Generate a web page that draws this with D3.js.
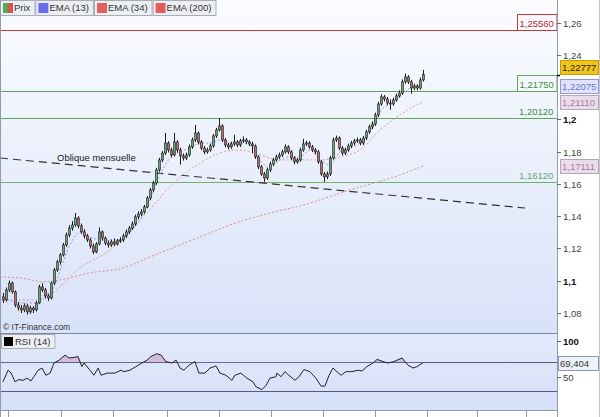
<!DOCTYPE html>
<html><head><meta charset="utf-8">
<script src="https://cdn.jsdelivr.net/npm/d3@7"></script>
<style>body{margin:0;background:#fff}svg{display:block;font-family:'Liberation Sans',Arial,sans-serif}</style>
</head><body><svg id="c" width="600" height="417"></svg>
<script>
// ---------- DATA ----------
const opens = [1.0900,1.0881,1.0943,1.0986,1.0931,1.0850,1.0831,1.0819,1.0844,1.0807,1.0831,1.0819,1.0862,1.0962,1.0943,1.0906,1.0893,1.0986,1.1067,1.1117,
1.1160,1.1222,1.1284,1.1327,1.1346,1.1389,1.1340,1.1303,1.1278,1.1253,1.1216,1.1179,1.1228,1.1303,1.1265,1.1234,1.1222,1.1241,1.1228,1.1247,
1.1253,1.1278,1.1303,1.1327,1.1352,1.1396,1.1414,1.1427,1.1458,1.1513,1.1563,1.1606,1.1687,1.1749,1.1792,1.1854,1.1811,1.1780,1.1861,1.1811,
1.1774,1.1761,1.1780,1.1830,1.1873,1.1916,1.1861,1.1823,1.1799,1.1811,1.1836,1.1898,1.1935,1.1960,1.1873,1.1842,1.1830,1.1848,1.1861,1.1842,
1.1867,1.1873,1.1861,1.1848,1.1836,1.1768,1.1706,1.1662,1.1637,1.1687,1.1724,1.1749,1.1768,1.1780,1.1799,1.1830,1.1799,1.1761,1.1737,1.1749,
1.1811,1.1848,1.1854,1.1830,1.1811,1.1799,1.1737,1.1662,1.1644,1.1662,1.1761,1.1873,1.1885,1.1823,1.1792,1.1811,1.1836,1.1854,1.1867,1.1873,
1.1854,1.1885,1.1923,1.1954,1.1972,1.2028,1.2096,1.2140,1.2127,1.2102,1.2096,1.2121,1.2146,1.2164,1.2233,1.2264,1.2233,1.2195,1.2208,1.2195,1.2245];
const closes = [1.0881,1.0943,1.0986,1.0931,1.0850,1.0831,1.0819,1.0844,1.0807,1.0831,1.0819,1.0862,1.0962,1.0943,1.0906,1.0893,1.0986,1.1067,1.1117,1.1160,
1.1222,1.1284,1.1327,1.1346,1.1389,1.1340,1.1303,1.1278,1.1253,1.1216,1.1179,1.1228,1.1303,1.1265,1.1234,1.1222,1.1241,1.1228,1.1247,1.1253,
1.1278,1.1303,1.1327,1.1352,1.1396,1.1414,1.1427,1.1458,1.1513,1.1563,1.1606,1.1687,1.1749,1.1792,1.1854,1.1811,1.1780,1.1861,1.1811,1.1774,
1.1761,1.1780,1.1830,1.1873,1.1916,1.1861,1.1823,1.1799,1.1811,1.1836,1.1898,1.1935,1.1960,1.1873,1.1842,1.1830,1.1848,1.1861,1.1842,1.1867,
1.1873,1.1861,1.1848,1.1836,1.1768,1.1706,1.1662,1.1637,1.1687,1.1724,1.1749,1.1768,1.1780,1.1799,1.1830,1.1799,1.1761,1.1737,1.1749,1.1811,
1.1848,1.1854,1.1830,1.1811,1.1799,1.1737,1.1662,1.1644,1.1662,1.1761,1.1873,1.1885,1.1823,1.1792,1.1811,1.1836,1.1854,1.1867,1.1873,1.1854,
1.1885,1.1923,1.1954,1.1972,1.2028,1.2096,1.2140,1.2127,1.2102,1.2096,1.2121,1.2146,1.2164,1.2233,1.2264,1.2233,1.2195,1.2208,1.2195,1.2245,1.22777];
const highs = [1.0925,1.0958,1.1002,1.0995,1.0940,1.0868,1.0850,1.0860,1.0855,1.0845,1.0842,1.0875,1.0975,1.0985,1.0955,1.0920,1.0995,1.1080,1.1130,1.1172,
1.1235,1.1300,1.1345,1.1370,1.1420,1.1400,1.1355,1.1320,1.1290,1.1265,1.1230,1.1240,1.1330,1.1312,1.1275,1.1250,1.1255,1.1262,1.1260,1.1270,
1.1292,1.1318,1.1340,1.1368,1.1410,1.1430,1.1445,1.1470,1.1525,1.1575,1.1620,1.1700,1.1762,1.1805,1.1916,1.1865,1.1825,1.1916,1.1872,1.1825,
1.1790,1.1795,1.1845,1.1888,1.1966,1.1925,1.1872,1.1835,1.1825,1.1850,1.1910,1.1948,1.2009,1.1970,1.1885,1.1855,1.1862,1.1905,1.1872,1.1880,
1.1895,1.1885,1.1872,1.1862,1.1845,1.1778,1.1718,1.1675,1.1700,1.1738,1.1762,1.1782,1.1795,1.1812,1.1845,1.1840,1.1810,1.1772,1.1762,1.1825,
1.1880,1.1868,1.1865,1.1842,1.1822,1.1810,1.1748,1.1675,1.1678,1.1775,1.1888,1.1900,1.1895,1.1835,1.1825,1.1850,1.1868,1.1880,1.1888,1.1885,
1.1898,1.1936,1.1968,1.1988,1.2042,1.2110,1.2156,1.2152,1.2140,1.2125,1.2135,1.2160,1.2180,1.2248,1.2285,1.2275,1.2245,1.2222,1.2218,1.2260,1.2307];
const lows = [1.0862,1.0870,1.0930,1.0920,1.0835,1.0815,1.0800,1.0805,1.0790,1.0795,1.0800,1.0810,1.0855,1.0930,1.0890,1.0875,1.0885,1.0975,1.1055,1.1100,
1.1150,1.1210,1.1270,1.1310,1.1335,1.1325,1.1290,1.1262,1.1240,1.1200,1.1165,1.1170,1.1220,1.1250,1.1220,1.1205,1.1210,1.1215,1.1218,1.1235,
1.1240,1.1265,1.1290,1.1315,1.1340,1.1380,1.1400,1.1415,1.1450,1.1500,1.1550,1.1595,1.1675,1.1735,1.1780,1.1795,1.1765,1.1770,1.1795,1.1720,
1.1745,1.1748,1.1770,1.1818,1.1860,1.1845,1.1810,1.1785,1.1788,1.1800,1.1825,1.1885,1.1925,1.1860,1.1828,1.1815,1.1818,1.1835,1.1828,1.1830,
1.1855,1.1848,1.1835,1.1790,1.1755,1.1692,1.1650,1.1613,1.1625,1.1675,1.1712,1.1738,1.1755,1.1768,1.1788,1.1785,1.1748,1.1722,1.1725,1.1738,
1.1800,1.1835,1.1818,1.1798,1.1785,1.1725,1.1650,1.1613,1.1630,1.1650,1.1750,1.1860,1.1810,1.1778,1.1780,1.1800,1.1822,1.1840,1.1855,1.1840,
1.1842,1.1872,1.1910,1.1940,1.1960,1.2015,1.2085,1.2112,1.2088,1.2060,1.2085,1.2110,1.2135,1.2152,1.2222,1.2220,1.2160,1.2182,1.2180,1.2185,1.2235];

// EMA lines as [candle index, value]
const ema13 = [[0,1.0900],[5.7,1.0862],[10.7,1.0862],[14,1.0906],[17.3,1.0974],[19.7,1.1098],[22.3,1.1222],[25.7,1.1303],[29,1.1272],[32.3,1.1253],
[35.7,1.1253],[39,1.1253],[42.3,1.1303],[45.7,1.1377],[49,1.1501],[52.3,1.1656],[55.7,1.1761],[59,1.1799],[62.3,1.1823],[65.7,1.1854],
[69,1.1854],[72.3,1.1873],[75.7,1.1854],[79,1.1854],[82.3,1.1842],[85.7,1.1749],[89,1.1699],[92.3,1.1749],[95.7,1.1768],[99,1.1768],
[102.3,1.1811],[105.7,1.1749],[109,1.1718],[112.3,1.1799],[115.7,1.1823],[119,1.1854],[122.3,1.1923],[125.7,1.2047],[129,1.2102],[132.3,1.2140],[135.7,1.2195],[140,1.22075]];
const ema34 = [[0,1.0881],[12.3,1.0881],[19,1.0962],[24.7,1.1067],[35.7,1.1191],[46.7,1.1396],[58,1.1625],[65.7,1.1730],[72.3,1.1792],[79,1.1811],
[85.7,1.1780],[92.3,1.1749],[99,1.1749],[105.7,1.1749],[112.3,1.1768],[119,1.1811],[125.7,1.1935],[132.3,1.2028],[140,1.2111]];
const ema200 = [[-1,1.1024],[5.7,1.1017],[14,1.0993],[19,1.1005],[29,1.1049],[40,1.1079],[49,1.1147],[65.7,1.1272],[75.7,1.1346],[89,1.1420],
[99,1.1464],[115.7,1.1563],[132.3,1.1656],[140,1.17111]];

const rsi = [[0,43],[1.7,59],[2.7,55],[4,43],[5.3,46],[6.7,45],[8,48],[9.3,44],[10.3,50],[11.7,59],[13,62],[14.3,52],[15.7,55],[17,69],[18.7,73],
[20.7,80],[22,76],[24,77],[25,78],[26.3,64],[27,69],[29,59],[30.3,52],[31.7,62],[32.7,52],[34.7,55],[37.3,55],[39.3,59],[40.3,57],[42.3,59],
[44.3,64],[46.3,69],[48,73],[49.3,78],[51.3,82],[52.7,80],[54.3,71],[56.3,69],[57.7,73],[59,62],[60.3,59],[62,66],[64,71],[65.3,55],[67.3,55],
[69,62],[71,65],[72.3,55],[74.3,52],[76.3,45],[77.3,52],[79.3,55],[81.3,48],[83.3,43],[84.3,36],[86.3,32],[87.7,38],[89,48],[91,50],[91.3,55],
[92.7,50],[94,57],[95.3,52],[97.3,45],[98.7,50],[100.3,60],[102.3,57],[104.3,48],[106,37],[107.3,37],[108.7,52],[110,62],[111.3,57],[112.7,52],
[114.3,57],[116.3,57],[118.3,59],[119.7,58],[121.3,64],[123.3,69],[124.7,74],[126.7,71],[128.3,69],[130.3,71],[133,76],[135,66],[136.7,62],[138,64],[140,69.404]];

const priceTicks = [1.26,1.24,1.22,1.2,1.18,1.16,1.14,1.12,1.1,1.08];
const priceTickLabels = ["1,26","1,24","","1,2","1,18","1,16","1,14","1,12","1,1","1,08"];
const boldTicks = ["1,2","1,1"];
const rsiTicks = [100,50];
const rsiLevels = [70,30];
const timeTicks = [1.7,19.3,36.7,54.7,72,89.3,106.7,124,141.3,158,174.3];

const levels = [
  {v:1.2556, label:"1,25560", kind:"box", color:"#c83a3a", text:"#c02828"},
  {v:1.2175, label:"1,21750", kind:"box", color:"#5aa55a", text:"#3e8e3e"},
  {v:1.2012, label:"1,20120", kind:"text", color:"#5aa55a", text:"#3e8e3e"},
  {v:1.1612, label:"1,16120", kind:"text", color:"#6cb46c", text:"#6aaa6a"}
];
const oblique = [[-1,1.1761],[174,1.1451]];
const obliqueLabel = "Oblique mensuelle";

const legendItems = [
  {name:"Prix", sw:["#4caf50","#e05050"]},
  {name:"EMA (13)", sw:["#6a6af0"]},
  {name:"EMA (34)", sw:["#e06060"]},
  {name:"EMA (200)", sw:["#e06060"]}
];
const lastLabels = [
  {v:1.22777, label:"1,22777", fill:"#f2c418", stroke:"#c89a10", text:"#222", pos:"above"},
  {v:1.22075, label:"1,22075", fill:"#dfe4fb", stroke:"#8f9bd6", text:"#6a76d8", pos:"mid"},
  {v:1.21110, label:"1,21110", fill:"#e8dde8", stroke:"#b7a3bb", text:"#b07a9e", pos:"mid"},
  {v:1.17111, label:"1,17111", fill:"#e8dde8", stroke:"#b7a3bb", text:"#b07a9e", pos:"mid"}
];

// ---------- LAYOUT ----------
const W=600, H=417, plotR=557, mainB=333, rsiT=333, rsiB=410;
const svg = d3.select("#c");
const x = d3.scaleLinear().domain([0,140]).range([3,423]);
const y = d3.scaleLinear().domain([1.26,1.08]).range([22.7,313]);
const yr = d3.scaleLinear().domain([70,30]).range([362.3,391.1]);

const defs = svg.append("defs");
const g1 = defs.append("linearGradient").attr("id","gMain").attr("x1",0).attr("y1",0).attr("x2",0).attr("y2",1);
g1.append("stop").attr("offset","0%").attr("stop-color","#fbfcff");
g1.append("stop").attr("offset","100%").attr("stop-color","#d8e2f8");
const g2 = defs.append("linearGradient").attr("id","gRsi").attr("x1",0).attr("y1",0).attr("x2",0).attr("y2",1);
g2.append("stop").attr("offset","0%").attr("stop-color","#e2e9fb");
g2.append("stop").attr("offset","100%").attr("stop-color","#d6e0f9");
defs.append("clipPath").attr("id","clipMain").append("rect").attr("x",0).attr("y",0).attr("width",plotR).attr("height",mainB);
defs.append("clipPath").attr("id","clipOver").append("rect").attr("x",0).attr("y",rsiT).attr("width",plotR).attr("height",yr(70)-rsiT);

svg.append("rect").attr("width",W).attr("height",H).attr("fill","#fff");
svg.append("rect").attr("x",0).attr("y",0).attr("width",plotR).attr("height",mainB).attr("fill","url(#gMain)");
svg.append("rect").attr("x",0).attr("y",rsiT).attr("width",plotR).attr("height",rsiB-rsiT).attr("fill","url(#gRsi)");

const main = svg.append("g").attr("clip-path","url(#clipMain)");

// level lines
levels.forEach(l=>{
  main.append("line").attr("x1",0).attr("x2",plotR).attr("y1",Math.round(y(l.v))+0.5).attr("y2",Math.round(y(l.v))+0.5)
    .attr("stroke",l.color).attr("stroke-width",1);
  if(l.kind==="box"){
    const yy=Math.round(y(l.v))+0.5;
    main.append("rect").attr("x",517.5).attr("y",yy-16).attr("width",39.5).attr("height",16)
      .attr("fill","#f6f8fe").attr("stroke",l.color).attr("stroke-width",1);
    main.append("text").attr("x",519.5).attr("y",yy-4).attr("font-size",9.5).attr("fill",l.text).text(l.label);
  } else {
    main.append("text").attr("x",519).attr("y",Math.round(y(l.v))-3).attr("font-size",9.5).attr("fill",l.text).text(l.label);
  }
});

// oblique
main.append("line").attr("x1",x(oblique[0][0])).attr("y1",y(oblique[0][1])).attr("x2",x(oblique[1][0])).attr("y2",y(oblique[1][1]))
  .attr("stroke","#333").attr("stroke-width",1.2).attr("stroke-dasharray","8,5");
main.append("text").attr("x",57).attr("y",161).attr("font-size",9.5).attr("fill","#222").text(obliqueLabel);

// EMAs
const ln = d3.line().x(d=>x(d[0])).y(d=>y(d[1])).curve(d3.curveMonotoneX);
main.append("path").attr("d",ln(ema200)).attr("fill","none").attr("stroke","#e08a8a").attr("stroke-width",1).attr("stroke-dasharray","2,2");
main.append("path").attr("d",ln(ema34)).attr("fill","none").attr("stroke","#e49a9a").attr("stroke-width",1).attr("stroke-dasharray","2,2");
main.append("path").attr("d",ln(ema13)).attr("fill","none").attr("stroke","#8f9ad8").attr("stroke-width",1).attr("stroke-dasharray","2,2");

// candles
const idx = d3.range(closes.length);
main.selectAll("line.w").data(idx).join("line").attr("class","w")
  .attr("x1",i=>Math.round(x(i))+0.5).attr("x2",i=>Math.round(x(i))+0.5)
  .attr("y1",i=>y(highs[i])).attr("y2",i=>y(lows[i])).attr("stroke","#1c1c1c").attr("stroke-width",1);
main.selectAll("rect.b").data(idx).join("rect").attr("class","b")
  .attr("x",i=>Math.round(x(i))-0.5).attr("width",2)
  .attr("y",i=>y(Math.max(opens[i],closes[i])))
  .attr("height",i=>Math.max(1,Math.abs(y(opens[i])-y(closes[i]))))
  .attr("fill",i=>closes[i]>=opens[i]?"#6f9f78":"#b07070")
  .attr("stroke","#1c1c1c").attr("stroke-width",0.6);

// copyright
svg.append("text").attr("x",3).attr("y",330).attr("font-size",8.5).attr("fill","#333").text("© IT-Finance.com");

// legend
let lx=0;
const lg = svg.append("g");
legendItems.forEach(it=>{
  const gi = lg.append("g");
  const t = gi.append("text").attr("x",lx+14).attr("y",11).attr("font-size",9.5).attr("fill","#333").text(it.name);
  const tw = t.node().getComputedTextLength();
  const w = tw+18;
  gi.insert("rect","text").attr("x",lx+0.5).attr("y",0.5).attr("width",w).attr("height",15).attr("fill","#eceef2").attr("stroke","#a8adb5");
  if(it.sw.length===2){
    gi.append("rect").attr("x",lx+3).attr("y",3).attr("width",5).attr("height",10).attr("fill",it.sw[0]);
    gi.append("rect").attr("x",lx+8).attr("y",3).attr("width",5).attr("height",10).attr("fill",it.sw[1]);
  } else {
    gi.append("rect").attr("x",lx+3).attr("y",3).attr("width",10).attr("height",10).attr("fill",it.sw[0]);
  }
  lx += w+1;
});

// RSI panel
const rg = svg.append("g");
rsiLevels.forEach(v=>{
  rg.append("line").attr("x1",0).attr("x2",plotR).attr("y1",Math.round(yr(v))+0.5).attr("y2",Math.round(yr(v))+0.5)
    .attr("stroke","#55558a").attr("stroke-width",1.2);
});
const ar = d3.area().x(d=>x(d[0])).y0(yr(70)).y1(d=>yr(d[1])).curve(d3.curveLinear);
rg.append("path").attr("d",ar(rsi)).attr("fill","#d4bcd8").attr("clip-path","url(#clipOver)");
rg.append("path").attr("d",d3.line().x(d=>x(d[0])).y(d=>yr(d[1]))(rsi)).attr("fill","none").attr("stroke","#222").attr("stroke-width",1);
// rsi legend
const rl = rg.append("g");
const rt = rl.append("text").attr("x",15).attr("y",345).attr("font-size",9.5).attr("fill","#333").text("RSI (14)");
const rtw = rt.node().getComputedTextLength();
rl.insert("rect","text").attr("x",1.5).attr("y",334.5).attr("width",rtw+18).attr("height",14).attr("fill","#eceef2").attr("stroke","#a8adb5");
rl.append("rect").attr("x",4).attr("y",337).attr("width",9).attr("height",9).attr("fill","#000");

// frames
const fr = svg.append("g").attr("stroke","#8f9cab").attr("fill","none");
fr.append("line").attr("x1",plotR+0.5).attr("x2",plotR+0.5).attr("y1",0).attr("y2",H);
fr.append("line").attr("x1",0.5).attr("x2",0.5).attr("y1",0).attr("y2",H);
fr.append("line").attr("x1",0).attr("x2",plotR).attr("y1",mainB+0.5).attr("y2",mainB+0.5).attr("stroke","#7d8aa0");
fr.append("line").attr("x1",0).attr("x2",plotR).attr("y1",rsiB+0.5).attr("y2",rsiB+0.5);
fr.append("line").attr("x1",599.5).attr("x2",599.5).attr("y1",0).attr("y2",H).attr("stroke","#c8c8c8");

// time ticks
svg.append("g").selectAll("line").data(timeTicks).join("line")
  .attr("x1",d=>Math.round(x(d))+0.5).attr("x2",d=>Math.round(x(d))+0.5).attr("y1",rsiB).attr("y2",H)
  .attr("stroke","#8f9cab");

// right price axis
const ax = svg.append("g");
priceTicks.forEach((v,k)=>{
  const lab = priceTickLabels[k];
  if(!lab) return;
  const yy = Math.round(y(v))+0.5;
  ax.append("line").attr("x1",plotR).attr("x2",plotR+4).attr("y1",yy).attr("y2",yy).attr("stroke","#666");
  ax.append("text").attr("x",plotR+6).attr("y",yy).attr("dy","0.35em").attr("font-size",9.5)
    .attr("font-weight",boldTicks.includes(lab)?"bold":"normal").attr("fill",boldTicks.includes(lab)?"#111":"#444").text(lab);
});
rsiTicks.forEach(v=>{
  const yy = Math.round(yr(v))+0.5;
  ax.append("line").attr("x1",plotR).attr("x2",plotR+4).attr("y1",yy).attr("y2",yy).attr("stroke","#666");
  ax.append("text").attr("x",plotR+6).attr("y",yy).attr("dy","0.35em").attr("font-size",9.5)
    .attr("font-weight",v===100?"bold":"normal").attr("fill",v===100?"#111":"#444").text(String(v));
});

// last-value labels
lastLabels.forEach(l=>{
  const yy = y(l.v);
  const top = l.pos==="above" ? Math.round(yy)-15 : Math.round(yy)-7;
  ax.append("rect").attr("x",560.5).attr("y",top+0.5).attr("width",38).attr("height",14).attr("fill",l.fill).attr("stroke",l.stroke);
  ax.append("text").attr("x",562).attr("y",top+11).attr("font-size",9.5).attr("fill",l.text).text(l.label);
});
// last price marker
ax.append("line").attr("x1",plotR).attr("x2",plotR+3).attr("y1",Math.round(y(closes[closes.length-1]))+0.5).attr("y2",Math.round(y(closes[closes.length-1]))+0.5).attr("stroke","#000").attr("stroke-width",1.5);
// RSI last value
const rlast = rsi[rsi.length-1][1];
const ry = Math.round(yr(rlast));
ax.append("rect").attr("x",558.5).attr("y",ry-7+0.5).attr("width",40).attr("height",14).attr("fill","#eef2fb").attr("stroke","#8a97aa");
ax.append("text").attr("x",560).attr("y",ry+4).attr("font-size",9.5).attr("fill","#333").text(String(rlast).replace(".",","));
</script></body></html>
